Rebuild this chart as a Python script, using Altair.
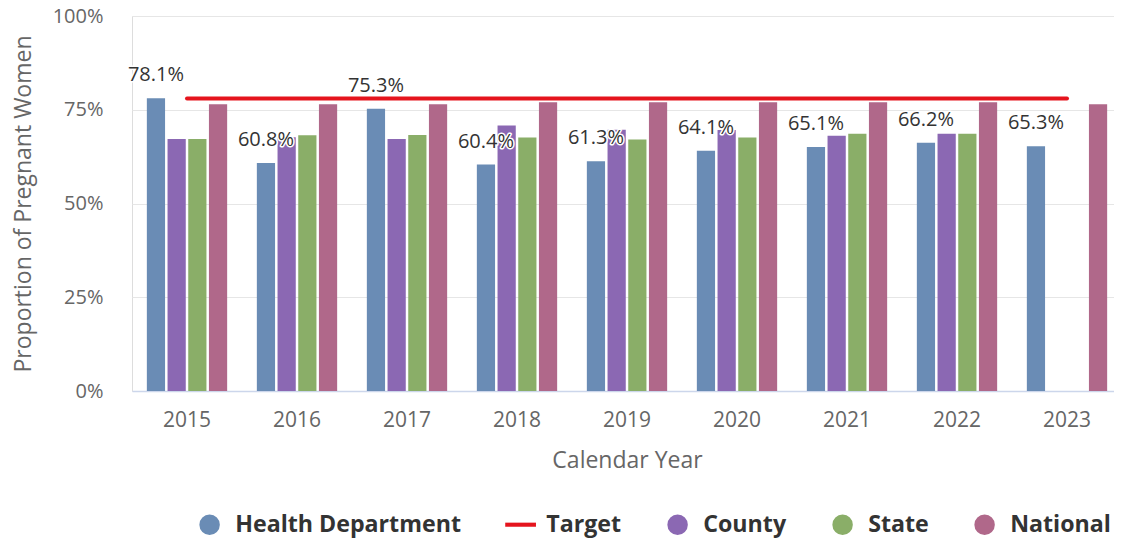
import altair as alt
import pandas as pd

years = ["2015", "2016", "2017", "2018", "2019", "2020", "2021", "2022", "2023"]
hd_values = [78.1, 60.8, 75.3, 60.4, 61.3, 64.1, 65.1, 66.2, 65.3]
county_values = [67.2, 67.7, 67.2, 70.8, 69.7, 69.6, 68.1, 68.6, None]
state_values = [67.2, 68.2, 68.3, 67.6, 67.1, 67.6, 68.6, 68.6, None]
national_values = [76.5, 76.5, 76.5, 77.0, 77.0, 77.0, 77.0, 77.0, 76.5]
target_values = [78.0, 78.0, 78.0, 78.0, 78.0, 78.0, 78.0, 78.0, 78.0]

bar_series = ["Health Department", "County", "State", "National"]
legend_domain = ["Health Department", "Target", "County", "State", "National"]
legend_colors = ["#6a8cb5", "#e5141d", "#8b68b3", "#8aae68", "#b0688a"]

rows = []
for name, vals in zip(bar_series, [hd_values, county_values, state_values, national_values]):
    for yr, v in zip(years, vals):
        if v is not None:
            rows.append({"year": yr, "series": name, "value": v})
bars_df = pd.DataFrame(rows)

target_df = pd.DataFrame({"year": years, "target": target_values, "series": "Target"})
labels_df = pd.DataFrame({
    "year": years,
    "value": hd_values,
    "series": "Health Department",
    "label": [f"{v}%" for v in hd_values],
})

FONT = "Open Sans"

x_scale = alt.Scale(domain=years, paddingInner=0.27, paddingOuter=0.135)
xoff_scale = alt.Scale(domain=bar_series, paddingInner=0.12, paddingOuter=0)
y_scale = alt.Scale(domain=[0, 100])

x_axis = alt.Axis(
    title="Calendar Year", labelAngle=0, ticks=False, tickSize=0,
    domainColor="#ccd6eb", domainWidth=1.5,
    labelFont=FONT, labelFontSize=21, labelColor="#666666", labelPadding=18,
    titleFont=FONT, titleFontSize=23, titleFontWeight="normal", titleColor="#666666",
    titlePadding=19,
)
y_axis = alt.Axis(
    title="Proportion of Pregnant Women", values=[0, 25, 50, 75, 100],
    labelExpr="datum.value + '%'", domain=False, ticks=False, tickSize=0,
    gridColor="#e6e6e6", gridWidth=1,
    labelFont=FONT, labelFontSize=20, labelColor="#666666", labelPadding=29,
    titleFont=FONT, titleFontSize=23, titleFontWeight="normal", titleColor="#666666",
    titlePadding=17,
)

legend = alt.Legend(
    title=None, orient="none", legendX=66, legendY=497, direction="horizontal",
    symbolType=alt.ExprRef(expr="datum.value === 'Target' ? 'M-1.5,-0.2H1.5V0.2H-1.5Z' : 'circle'"),
    symbolSize=420, symbolStrokeWidth=0,
    labelFont=FONT, labelFontSize=23.2, labelFontWeight="bold", labelColor="#333333",
    labelOffset=14, columnPadding=44, labelLimit=400,
)

bars = alt.Chart(bars_df).mark_bar().encode(
    x=alt.X("year:N", scale=x_scale, axis=x_axis),
    xOffset=alt.XOffset("series:N", scale=xoff_scale),
    y=alt.Y("value:Q", scale=y_scale, axis=y_axis),
    color=alt.Color("series:N", scale=alt.Scale(domain=legend_domain, range=legend_colors), legend=legend),
)

target = alt.Chart(target_df).mark_line(color="#e5141d", strokeWidth=4, strokeCap="round").encode(
    x=alt.X("year:N", scale=x_scale),
    y=alt.Y("target:Q", scale=y_scale),
)

label_halo = alt.Chart(labels_df).mark_text(
    font=FONT, fontSize=20, baseline="alphabetic", dy=-17,
    stroke="white", strokeWidth=3, strokeJoin="round", fill="white",
).encode(
    x=alt.X("year:N", scale=x_scale),
    xOffset=alt.XOffset("series:N", scale=xoff_scale),
    y=alt.Y("value:Q", scale=y_scale),
    text="label:N",
)

label_text = alt.Chart(labels_df).mark_text(
    font=FONT, fontSize=20, baseline="alphabetic", dy=-17, color="#333333",
).encode(
    x=alt.X("year:N", scale=x_scale),
    xOffset=alt.XOffset("series:N", scale=xoff_scale),
    y=alt.Y("value:Q", scale=y_scale),
    text="label:N",
)

chart = alt.layer(bars, target, label_halo, label_text).properties(
    width=990, height=375,
    autosize=alt.AutoSizeParams(type="none"),
    padding={"left": 124, "top": 8, "right": -8, "bottom": 147},
).configure_view(stroke=None).configure(font=FONT)

chart.save("out.html", embed_options={"renderer": "svg", "actions": False})
